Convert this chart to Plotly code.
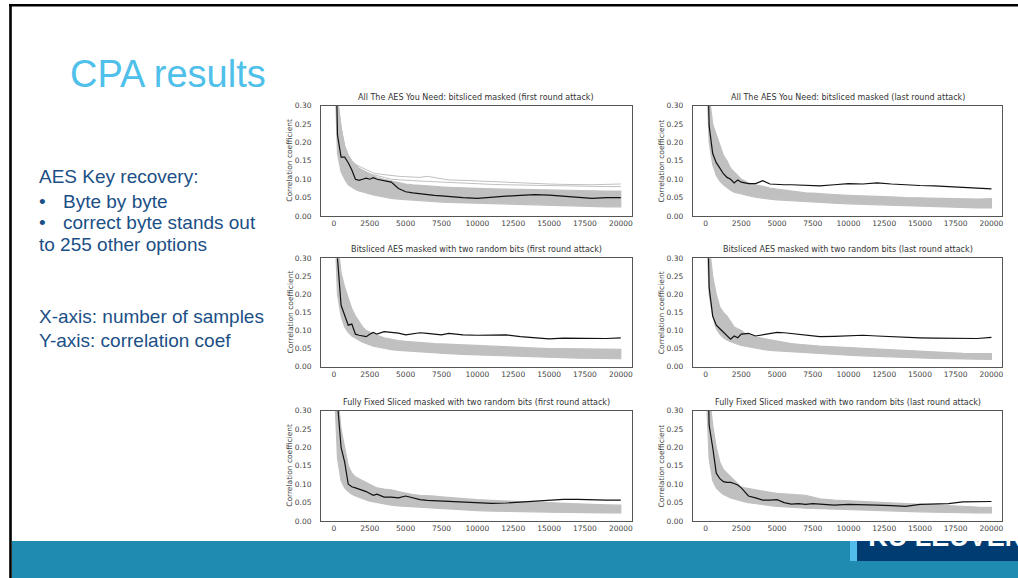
import plotly.graph_objects as go

W, H = 1018, 578

# ---------------- data ----------------
SAMPLES = [50, 250, 500, 750, 1000, 1250, 1500, 1750, 2000, 2250,
           2500, 2750, 3000, 3500, 4000, 4500, 5000, 5500, 6000, 6500,
           7000, 7500, 8000, 9000, 10000, 11000, 12000, 13000, 14000, 15000,
           16000, 17000, 18000, 19000, 20000]

X_TICKS = [0, 2500, 5000, 7500, 10000, 12500, 15000, 17500, 20000]
Y_TICKS = [0.00, 0.05, 0.10, 0.15, 0.20, 0.25, 0.30]

TITLES = [
    "All The AES You Need: bitsliced masked (first round attack)",
    "All The AES You Need: bitsliced masked (last round attack)",
    "Bitsliced AES masked with two random bits (first round attack)",
    "Bitsliced AES masked with two random bits (last round attack)",
    "Fully Fixed Sliced masked with two random bits (first round attack)",
    "Fully Fixed Sliced masked with two random bits (last round attack)",
]

# correct key guess (black)
aes_first_correct = [0.6, 0.22, 0.16, 0.16, 0.145, 0.125, 0.10, 0.097, 0.10, 0.103,
                     0.10, 0.104, 0.10, 0.096, 0.092, 0.075, 0.066, 0.063, 0.060, 0.058,
                     0.056, 0.055, 0.053, 0.050, 0.048, 0.052, 0.054, 0.056, 0.058, 0.057,
                     0.054, 0.052, 0.048, 0.050, 0.050]
aes_last_correct = [0.6, 0.245, 0.17, 0.145, 0.13, 0.115, 0.105, 0.10, 0.09, 0.098,
                    0.092, 0.09, 0.088, 0.088, 0.096, 0.087, 0.085, 0.085, 0.085, 0.084,
                    0.083, 0.082, 0.082, 0.085, 0.088, 0.087, 0.09, 0.087, 0.084, 0.083,
                    0.082, 0.08, 0.078, 0.074, 0.074]
bs_first_correct = [0.6, 0.30, 0.17, 0.145, 0.115, 0.118, 0.09, 0.087, 0.085, 0.083,
                    0.09, 0.095, 0.09, 0.097, 0.095, 0.093, 0.088, 0.09, 0.094, 0.092,
                    0.09, 0.088, 0.092, 0.088, 0.087, 0.088, 0.088, 0.083, 0.08, 0.077,
                    0.079, 0.078, 0.078, 0.078, 0.08]
bs_last_correct = [0.6, 0.22, 0.14, 0.115, 0.105, 0.095, 0.085, 0.076, 0.085, 0.08,
                   0.09, 0.09, 0.092, 0.085, 0.088, 0.092, 0.095, 0.094, 0.092, 0.09,
                   0.087, 0.085, 0.083, 0.084, 0.086, 0.087, 0.085, 0.083, 0.08, 0.08,
                   0.079, 0.078, 0.077, 0.078, 0.081]
ff_first_correct = [0.6, 0.32, 0.20, 0.16, 0.10, 0.093, 0.09, 0.087, 0.085, 0.08,
                    0.075, 0.07, 0.073, 0.065, 0.065, 0.063, 0.068, 0.063, 0.058, 0.056,
                    0.055, 0.055, 0.054, 0.052, 0.05, 0.048, 0.049, 0.052, 0.053, 0.056,
                    0.059, 0.059, 0.057, 0.057, 0.057]
ff_last_correct = [0.6, 0.26, 0.20, 0.13, 0.115, 0.107, 0.105, 0.105, 0.102, 0.098,
                   0.09, 0.078, 0.068, 0.063, 0.057, 0.057, 0.058, 0.05, 0.046, 0.047,
                   0.045, 0.047, 0.045, 0.043, 0.045, 0.045, 0.043, 0.042, 0.04, 0.045,
                   0.047, 0.047, 0.052, 0.052, 0.053]

# envelope of the 255 wrong key guesses (grey band)
aes_first_upper = [0.6, 0.32, 0.24, 0.19, 0.165, 0.15, 0.14, 0.13, 0.125, 0.12,
                   0.115, 0.11, 0.105, 0.10, 0.095, 0.09, 0.087, 0.085, 0.083, 0.082,
                   0.08, 0.079, 0.078, 0.076, 0.075, 0.074, 0.073, 0.072, 0.071, 0.07,
                   0.07, 0.069, 0.069, 0.068, 0.068]
aes_first_lower = [0.4, 0.17, 0.12, 0.10, 0.085, 0.078, 0.072, 0.068, 0.065, 0.062,
                   0.06, 0.057, 0.055, 0.051, 0.048, 0.046, 0.044, 0.042, 0.041, 0.04,
                   0.039, 0.038, 0.037, 0.035, 0.033, 0.032, 0.031, 0.03, 0.029, 0.028,
                   0.027, 0.026, 0.026, 0.025, 0.025]
aes_last_upper = [0.6, 0.33, 0.25, 0.22, 0.19, 0.165, 0.15, 0.13, 0.12, 0.11,
                  0.10, 0.095, 0.09, 0.085, 0.08, 0.076, 0.073, 0.07, 0.067, 0.065,
                  0.063, 0.062, 0.06, 0.058, 0.056, 0.054, 0.053, 0.052, 0.05, 0.049,
                  0.048, 0.047, 0.046, 0.046, 0.047]
aes_last_lower = [0.4, 0.2, 0.14, 0.11, 0.095, 0.085, 0.077, 0.07, 0.065, 0.062,
                  0.059, 0.057, 0.055, 0.051, 0.048, 0.046, 0.044, 0.042, 0.041, 0.04,
                  0.039, 0.038, 0.037, 0.035, 0.033, 0.031, 0.03, 0.028, 0.027, 0.026,
                  0.025, 0.024, 0.023, 0.022, 0.022]
bs_first_upper = [0.6, 0.35, 0.26, 0.22, 0.19, 0.16, 0.14, 0.125, 0.11, 0.10,
                  0.095, 0.09, 0.087, 0.08, 0.075, 0.072, 0.07, 0.068, 0.066, 0.065,
                  0.064, 0.063, 0.062, 0.06, 0.058, 0.056, 0.055, 0.053, 0.052, 0.05,
                  0.05, 0.049, 0.049, 0.048, 0.048]
bs_first_lower = [0.4, 0.2, 0.14, 0.11, 0.095, 0.085, 0.078, 0.073, 0.068, 0.064,
                  0.06, 0.057, 0.055, 0.05, 0.047, 0.045, 0.043, 0.041, 0.04, 0.039,
                  0.038, 0.037, 0.036, 0.034, 0.032, 0.031, 0.029, 0.028, 0.027, 0.026,
                  0.025, 0.024, 0.023, 0.022, 0.022]
bs_last_upper = [0.6, 0.34, 0.25, 0.20, 0.165, 0.15, 0.14, 0.125, 0.11, 0.105,
                 0.10, 0.092, 0.087, 0.082, 0.078, 0.074, 0.07, 0.067, 0.064, 0.062,
                 0.06, 0.058, 0.057, 0.055, 0.053, 0.05, 0.047, 0.045, 0.043, 0.041,
                 0.04, 0.038, 0.037, 0.036, 0.036]
bs_last_lower = [0.4, 0.2, 0.14, 0.105, 0.09, 0.08, 0.074, 0.069, 0.065, 0.062,
                 0.059, 0.057, 0.055, 0.051, 0.048, 0.045, 0.043, 0.041, 0.04, 0.039,
                 0.038, 0.037, 0.036, 0.034, 0.032, 0.03, 0.028, 0.027, 0.026, 0.024,
                 0.023, 0.022, 0.021, 0.02, 0.02]
ff_first_upper = [0.6, 0.35, 0.25, 0.20, 0.15, 0.13, 0.12, 0.115, 0.11, 0.105,
                  0.10, 0.095, 0.09, 0.087, 0.085, 0.08, 0.075, 0.072, 0.07, 0.07,
                  0.068, 0.066, 0.064, 0.061, 0.058, 0.056, 0.055, 0.053, 0.051, 0.05,
                  0.048, 0.046, 0.045, 0.044, 0.043]
ff_first_lower = [0.35, 0.17, 0.11, 0.09, 0.08, 0.073, 0.068, 0.064, 0.06, 0.057,
                  0.054, 0.052, 0.05, 0.046, 0.043, 0.041, 0.04, 0.038, 0.036, 0.035,
                  0.034, 0.033, 0.032, 0.03, 0.028, 0.027, 0.026, 0.025, 0.025, 0.024,
                  0.023, 0.023, 0.022, 0.022, 0.022]
ff_last_upper = [0.6, 0.35, 0.26, 0.20, 0.16, 0.14, 0.13, 0.12, 0.11, 0.10,
                 0.092, 0.09, 0.088, 0.085, 0.082, 0.078, 0.075, 0.073, 0.072, 0.071,
                 0.07, 0.065, 0.06, 0.057, 0.055, 0.053, 0.051, 0.049, 0.047, 0.045,
                 0.043, 0.041, 0.04, 0.038, 0.037]
ff_last_lower = [0.35, 0.17, 0.11, 0.09, 0.08, 0.072, 0.067, 0.063, 0.06, 0.057,
                 0.054, 0.052, 0.05, 0.047, 0.044, 0.042, 0.04, 0.038, 0.037, 0.036,
                 0.035, 0.034, 0.033, 0.031, 0.03, 0.029, 0.028, 0.027, 0.026, 0.025,
                 0.024, 0.023, 0.022, 0.022, 0.022]

# a few wrong guesses that stay above the band (panel 1)
aes_first_outlier_a = [0.6, 0.32, 0.24, 0.19, 0.165, 0.15, 0.14, 0.135, 0.13, 0.125,
                       0.12, 0.117, 0.115, 0.112, 0.11, 0.108, 0.107, 0.105, 0.105, 0.108,
                       0.105, 0.10, 0.098, 0.097, 0.095, 0.093, 0.092, 0.09, 0.088, 0.087,
                       0.086, 0.085, 0.085, 0.086, 0.087]
aes_first_outlier_b = [0.6, 0.32, 0.24, 0.19, 0.165, 0.15, 0.14, 0.13, 0.12, 0.117,
                       0.115, 0.112, 0.11, 0.105, 0.10, 0.098, 0.097, 0.096, 0.095, 0.094,
                       0.093, 0.092, 0.09, 0.088, 0.087, 0.086, 0.085, 0.084, 0.083, 0.082,
                       0.081, 0.08, 0.08, 0.08, 0.08]

PANELS = [
    (aes_first_correct, aes_first_upper, aes_first_lower, [aes_first_outlier_a, aes_first_outlier_b]),
    (aes_last_correct, aes_last_upper, aes_last_lower, []),
    (bs_first_correct, bs_first_upper, bs_first_lower, []),
    (bs_last_correct, bs_last_upper, bs_last_lower, []),
    (ff_first_correct, ff_first_upper, ff_first_lower, []),
    (ff_last_correct, ff_last_upper, ff_last_lower, []),
]

# ---------------- layout helpers ----------------
def px(x):
    return x / W

def py(y):
    return 1 - y / H

COLS = [(321, 631.7), (692.7, 1002.3)]
ROWS = [(105.7, 216.0), (258.3, 366.7), (410.7, 521.0)]

GREY = "#c0c0c0"
TICKFONT = dict(family="DejaVu Sans", size=7.5, color="#444444")

fig = go.Figure()
layout = dict(
    width=W, height=H, autosize=False,
    margin=dict(l=0, r=0, t=0, b=0, pad=0, autoexpand=False),
    paper_bgcolor="white", plot_bgcolor="white", showlegend=False,
)
annotations = []

for i, (correct, upper, lower, outliers) in enumerate(PANELS):
    r, c = divmod(i, 2)
    n = i + 1
    xa = "x" if n == 1 else f"x{n}"
    ya = "y" if n == 1 else f"y{n}"
    xkey = "xaxis" if n == 1 else f"xaxis{n}"
    ykey = "yaxis" if n == 1 else f"yaxis{n}"
    x0, x1 = COLS[c]
    ytop, ybot = ROWS[r]

    band_x = SAMPLES + SAMPLES[::-1]
    band_y = upper + lower[::-1]
    fig.add_trace(go.Scatter(x=band_x, y=band_y, fill="toself", fillcolor=GREY,
                             mode="lines", line=dict(color=GREY, width=1.2),
                             xaxis=xa, yaxis=ya, hoverinfo="skip"))
    for o in outliers:
        fig.add_trace(go.Scatter(x=SAMPLES, y=o, mode="lines",
                                 line=dict(color=GREY, width=1.0),
                                 xaxis=xa, yaxis=ya, hoverinfo="skip"))
    fig.add_trace(go.Scatter(x=SAMPLES, y=correct, mode="lines",
                             line=dict(color="#111111", width=1.2),
                             xaxis=xa, yaxis=ya))

    layout[xkey] = dict(domain=[px(x0), px(x1)], anchor=ya, range=[-900, 20760],
                        tickvals=X_TICKS, tickformat="d", showgrid=False, zeroline=False,
                        showline=True, mirror=True, linecolor="#555555", linewidth=1,
                        ticks="", tickfont=TICKFONT, fixedrange=True, automargin=False)
    layout[ykey] = dict(domain=[py(ybot), py(ytop)], anchor=xa, range=[0, 0.30],
                        tickvals=Y_TICKS, tickformat=".2f", showgrid=False, zeroline=False,
                        showline=True, mirror=True, linecolor="#555555", linewidth=1,
                        ticks="", ticklabelstandoff=7, tickfont=TICKFONT, fixedrange=True,
                        automargin=False)

    annotations.append(dict(text=TITLES[i], xref="paper", yref="paper",
                            x=px((x0 + x1) / 2), y=py(ytop - 2), xanchor="center",
                            yanchor="bottom", showarrow=False,
                            font=dict(family="DejaVu Sans", size=8, color="#333333")))
    annotations.append(dict(text="Correlation coefficient", xref="paper", yref="paper",
                            x=px(x0 - 31), y=py((ytop + ybot) / 2), xanchor="center",
                            yanchor="middle", textangle=-90, showarrow=False,
                            font=dict(family="DejaVu Sans", size=7.5, color="#444444")))

# clipped KU LEUVEN logo text
fig.add_trace(go.Scatter(x=[0.07], y=[0.40], mode="text", text=["<b>KU LEUVEN</b>"],
                         textposition="top right", cliponaxis=True,
                         textfont=dict(family="Liberation Sans", size=27, color="white"),
                         xaxis="x7", yaxis="y7", hoverinfo="skip"))
layout["xaxis7"] = dict(domain=[px(857), 1], anchor="y7", range=[0, 1], visible=False,
                        fixedrange=True)
layout["yaxis7"] = dict(domain=[py(561), py(541)], anchor="x7", range=[0, 1],
                        visible=False, fixedrange=True)

# slide text
SLIDE_BLUE = "#1b4f86"
annotations.append(dict(text="CPA results", xref="paper", yref="paper", x=px(68),
                        y=py(74), xanchor="left", yanchor="middle", showarrow=False,
                        font=dict(family="Liberation Sans", size=38, color="#4ec0ea")))
left_lines = [
    (37, 177, "AES Key recovery:"),
    (37, 201, "•"), (61, 201, "Byte by byte"),
    (37, 222, "•"), (61, 222, "correct byte stands out"),
    (37, 245, "to 255 other options"),
    (37, 316, "X-axis: number of samples"),
    (37, 340, "Y-axis: correlation coef"),
]
for lx, ly, t in left_lines:
    annotations.append(dict(text=t, xref="paper", yref="paper", x=px(lx), y=py(ly),
                            xanchor="left", yanchor="middle", showarrow=False,
                            font=dict(family="Liberation Sans", size=19, color=SLIDE_BLUE)))

layout["annotations"] = annotations

shapes = [
    dict(type="rect", xref="paper", yref="paper", x0=px(12), x1=1, y0=0, y1=py(541),
         fillcolor="#1f8bb0", line=dict(width=0), layer="below"),
    dict(type="rect", xref="paper", yref="paper", x0=px(857), x1=1, y0=py(561), y1=py(541),
         fillcolor="#003c71", line=dict(width=0), layer="below"),
    dict(type="rect", xref="paper", yref="paper", x0=px(850), x1=px(857), y0=py(561),
         y1=py(541), fillcolor="#52bdec", line=dict(width=0), layer="below"),
    dict(type="line", xref="paper", yref="paper", x0=px(9), x1=1, y0=py(5.3), y1=py(5.3),
         line=dict(color="black", width=2.6)),
    dict(type="line", xref="paper", yref="paper", x0=px(10.5), x1=px(10.5), y0=0,
         y1=py(4), line=dict(color="black", width=2.6)),
]
layout["shapes"] = shapes

fig.update_layout(**layout)
POST = ("document.documentElement.style.margin='0';"
        "document.body.style.margin='0';"
        "document.body.style.overflow='hidden';"
        "var gd=document.getElementById('{plot_id}');"
        "gd.style.position='fixed';gd.style.left='0px';gd.style.top='0px';")
fig.write_html("out.html", config={"displayModeBar": False, "responsive": False},
               post_script=POST)
